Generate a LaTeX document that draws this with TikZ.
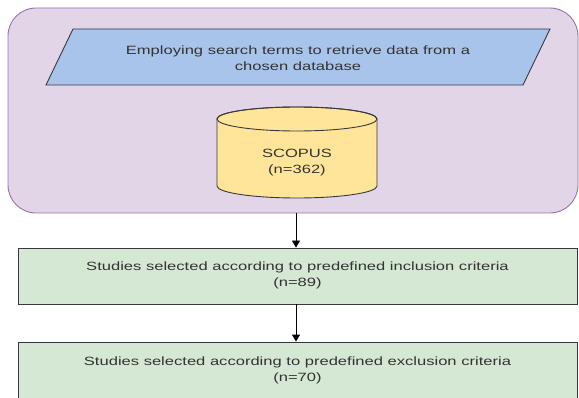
\documentclass[tikz,border=0pt]{standalone}
\usepackage{fontspec}
\newfontfamily\dfont[FakeStretch=1.38]{Liberation Sans}
\usetikzlibrary{arrows.meta}
\definecolor{purpfill}{HTML}{E1D5E7}
\definecolor{purpline}{HTML}{9673A6}
\definecolor{bluefill}{HTML}{A9C4EB}
\definecolor{yelfill}{HTML}{FFE599}
\definecolor{greenfill}{HTML}{D5E8D4}
\definecolor{edgecol}{HTML}{36393D}
\definecolor{txtcol}{HTML}{333333}
\tikzset{
  lbl/.style={font=\dfont\fontsize{12}{16}\selectfont, text=txtcol, align=center, inner sep=0pt},
  greenbox/.style={draw=edgecol, line width=0.9pt, fill=greenfill, minimum width=559pt, minimum height=56pt, inner sep=0pt},
  arr/.style={draw=black, line width=0.9pt, -{Triangle[length=7pt,width=8pt]}},
}
\begin{document}
\begin{tikzpicture}[x=1pt,y=1pt]
\useasboundingbox (0,0) rectangle (579,397);
% container
\node[draw=purpline, line width=0.9pt, fill=purpfill, rounded corners=28pt,
      minimum width=570pt, minimum height=205pt, inner sep=0pt] (group) at (293,286.5) {};
% parallelogram
\draw[draw=edgecol, line width=0.9pt, fill=bluefill] (73,368) -- (550,368) -- (523,312) -- (46,312) -- cycle;
\node[lbl] (search) at (298,338.5) {Employing search terms to retrieve data from a\\chosen database};
% cylinder
\draw[draw=edgecol, line width=0.9pt, fill=yelfill]
  (217,278) -- (217,211) arc[start angle=180, end angle=360, x radius=80, y radius=12]
  -- (377,278) arc[start angle=0, end angle=180, x radius=80, y radius=12] -- cycle;
\draw[draw=edgecol, line width=0.9pt] (297,278) ellipse[x radius=80, y radius=12];
\node[lbl] (scopus) at (297,234) {SCOPUS\\(n=362)};
% boxes
\node[greenbox] (incl) at (297.5,121) {};
\node[lbl] (incltxt) at (297.5,121.5) {Studies selected according to predefined inclusion criteria\\(n=89)};
\node[greenbox, minimum height=66pt] (excl) at (297.5,22) {};
\node[lbl] (excltxt) at (297.5,26.5) {Studies selected according to predefined exclusion criteria\\(n=70)};
% arrows
\draw[arr] (group.south -| 296,0) -- (incl.north -| 296,0);
\draw[arr] (incl.south -| 296,0) -- (excl.north -| 296,0);
\end{tikzpicture}
\end{document}
